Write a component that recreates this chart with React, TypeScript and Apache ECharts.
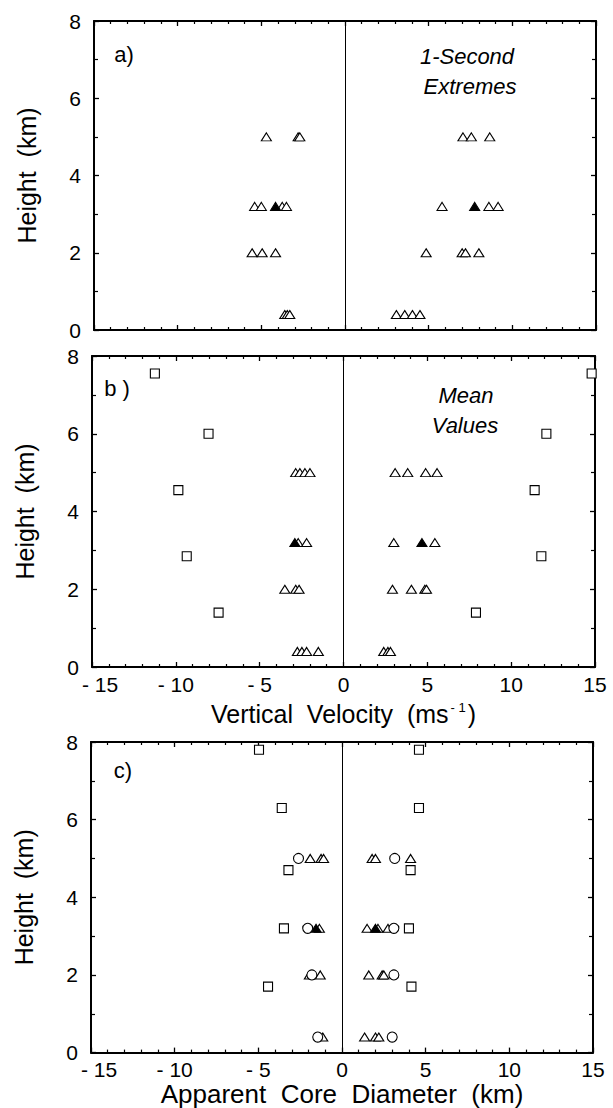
import React, { useEffect, useRef } from "react";
import * as echarts from "echarts";

type Pt = [number, number];

// ---- axis settings ----
const xRange = [-15, 15];
const yRange = [0, 8];
const xTickStep = 5;
const yTickStep = 2;

// ---- panel a) 1-Second Extremes (vertical velocity, m/s vs height, km) ----
const panelAOpenTriangles: Pt[] = [
  [-4.7, 5.0], [-2.8, 5.0], [-2.7, 5.0], [7.05, 5.0], [7.55, 5.0], [8.65, 5.0],
  [-5.4, 3.2], [-5.0, 3.2], [-3.75, 3.2], [-3.5, 3.2], [5.8, 3.2], [8.6, 3.2], [9.15, 3.2],
  [-5.55, 2.0], [-4.95, 2.0], [-4.15, 2.0], [4.85, 2.0], [7.0, 2.0], [7.2, 2.0], [8.0, 2.0],
  [-3.6, 0.4], [-3.45, 0.4], [-3.3, 0.4], [3.07, 0.4], [3.57, 0.4], [4.03, 0.4], [4.48, 0.4],
];
const panelAFilledTriangles: Pt[] = [[-4.15, 3.2], [7.75, 3.2]];

// ---- panel b) Mean Values ----
const panelBOpenTriangles: Pt[] = [
  [-2.85, 5.0], [-2.6, 5.0], [-2.3, 5.0], [-2.0, 5.0], [3.08, 5.0], [3.83, 5.0], [4.9, 5.0], [5.58, 5.0],
  [-2.7, 3.2], [-2.2, 3.2], [3.0, 3.2], [5.45, 3.2],
  [-3.5, 2.0], [-2.85, 2.0], [-2.65, 2.0], [2.92, 2.0], [4.05, 2.0], [4.85, 2.0], [4.95, 2.0],
  [-2.75, 0.4], [-2.48, 0.4], [-2.2, 0.4], [-1.5, 0.4], [2.4, 0.4], [2.65, 0.4], [2.8, 0.4],
];
const panelBFilledTriangles: Pt[] = [[-2.9, 3.2], [4.68, 3.2]];
const panelBSquares: Pt[] = [
  [-11.25, 7.55], [-8.05, 6.0], [-9.85, 4.55], [-9.35, 2.85], [-7.45, 1.4],
  [14.8, 7.55], [12.1, 6.0], [11.4, 4.55], [11.8, 2.85], [7.9, 1.4],
];

// ---- panel c) Apparent Core Diameter (km) ----
const panelCOpenTriangles: Pt[] = [
  [-1.9, 5.0], [-1.25, 5.0], [-1.1, 5.0], [1.8, 5.0], [2.0, 5.0], [4.1, 5.0],
  [-1.35, 3.2], [1.5, 3.2], [2.15, 3.2], [2.75, 3.2],
  [-1.95, 2.0], [-1.3, 2.0], [1.6, 2.0], [2.4, 2.0], [2.5, 2.0],
  [-1.15, 0.4], [1.35, 0.4], [2.0, 0.4], [2.2, 0.4],
];
const panelCFilledTriangles: Pt[] = [[-1.55, 3.2], [2.0, 3.2]];
const panelCSquares: Pt[] = [
  [-4.96, 7.8], [-3.6, 6.3], [-3.2, 4.7], [-3.47, 3.2], [-4.42, 1.7],
  [4.6, 7.8], [4.6, 6.3], [4.1, 4.7], [4.0, 3.2], [4.15, 1.7],
];
const panelCCircles: Pt[] = [
  [-2.6, 5.0], [-2.05, 3.2], [-1.8, 2.0], [-1.45, 0.4],
  [3.15, 5.0], [3.1, 3.2], [3.1, 2.0], [3.0, 0.4],
];

const FONT = "'Liberation Sans', Arial, Helvetica, sans-serif";
const BLACK = "#000";

const grids = [
  { left: 94, top: 21, width: 502, height: 309 },
  { left: 92, top: 356, width: 503, height: 311 },
  { left: 91, top: 742, width: 502, height: 311 },
];

function tickLabel(v: number) {
  const s = v < 0 ? "- " + String(-v) : String(v);
  return v === xRange[0] ? "{first|" + s + "}" : s;
}

function makeAxes(i: number, showXLabels: boolean, xName: any) {
  const axisLine = { show: true, onZero: false, lineStyle: { color: BLACK, width: 2 } };
  const xCommon = {
    type: "value",
    gridIndex: i,
    min: xRange[0],
    max: xRange[1],
    interval: xTickStep,
    axisLine,
    splitLine: { show: false },
    axisTick: { show: true, inside: true, length: 5, lineStyle: { color: BLACK, width: 1.3 } },
    minorTick: { show: true, splitNumber: 5, length: 3, lineStyle: { color: BLACK, width: 1.2 } },
    minorSplitLine: { show: false },
  };
  const yCommon = {
    type: "value",
    gridIndex: i,
    min: yRange[0],
    max: yRange[1],
    interval: yTickStep,
    axisLine,
    splitLine: { show: false },
    axisTick: { show: true, inside: true, length: 5, lineStyle: { color: BLACK, width: 1.3 } },
    minorTick: { show: true, splitNumber: 2, length: 4, lineStyle: { color: BLACK, width: 1.2 } },
    minorSplitLine: { show: false },
  };
  const xBottom: any = {
    ...xCommon,
    position: "bottom",
    axisLabel: {
      show: showXLabels,
      color: BLACK,
      fontFamily: FONT,
      fontSize: 21,
      lineHeight: 16,
      margin: 9,
      formatter: tickLabel,
      rich: {
        first: { color: BLACK, fontFamily: FONT, fontSize: 21, lineHeight: 16, padding: [0, 0, 0, 16] },
      },
    },
  };
  if (xName) Object.assign(xBottom, xName);
  const xTop: any = { ...xCommon, position: "top", axisLabel: { show: false } };
  const yLeft: any = {
    ...yCommon,
    position: "left",
    name: "Height  (km)",
    nameLocation: "middle",
    nameGap: 55,
    nameTextStyle: { color: BLACK, fontFamily: FONT, fontSize: 25 },
    axisLabel: { show: true, color: BLACK, fontFamily: FONT, fontSize: 21, lineHeight: 16, margin: 13 },
  };
  const yRight: any = { ...yCommon, position: "right", axisLabel: { show: false } };
  return { x: [xBottom, xTop], y: [yLeft, yRight] };
}

function scatter(
  name: string,
  data: Pt[],
  gridIdx: number,
  symbol: string,
  size: number | number[],
  fill: string,
  zeroLine = false
): any {
  const s: any = {
    name,
    type: "scatter",
    data,
    xAxisIndex: gridIdx * 2,
    yAxisIndex: gridIdx * 2,
    symbol,
    symbolSize: size,
    itemStyle: { color: fill, borderColor: BLACK, borderWidth: 1.1, opacity: 1 },
    emphasis: { disabled: true },
    silent: true,
  };
  if (zeroLine) {
    s.markLine = {
      silent: true,
      symbol: ["none", "none"],
      label: { show: false },
      lineStyle: { color: BLACK, width: 1, type: "solid" },
      emphasis: { disabled: true },
      data: [{ xAxis: 0 }],
    };
  }
  return s;
}

const TRI = [10, 8];

export default function App() {
  const ref = useRef<HTMLDivElement>(null);
  useEffect(() => {
    if (!ref.current) return;
    const chart = echarts.init(ref.current, null, { renderer: "svg", width: 613, height: 1108 });

    const a = makeAxes(0, false, null);
    const b = makeAxes(1, true, {
      name: "Vertical  Velocity  (ms{sup|- 1})",
      nameLocation: "middle",
      nameGap: 34,
      nameTextStyle: {
        color: BLACK,
        fontFamily: FONT,
        fontSize: 25,
        rich: {
          sup: { fontFamily: FONT, fontSize: 13, color: BLACK, verticalAlign: "top", lineHeight: 13, padding: [0, 2, 12, 2] },
        },
      },
    });
    const c = makeAxes(2, true, {
      name: "Apparent  Core  Diameter  (km)",
      nameLocation: "middle",
      nameGap: 24,
      nameTextStyle: { color: BLACK, fontFamily: FONT, fontSize: 26 },
    });

    const textStyle = (size: number, italic = false) => ({
      fill: BLACK,
      font: `${italic ? "italic " : ""}${size}px ${FONT}`,
      textAlign: "center",
      textVerticalAlign: "middle",
    });

    const option: any = {
      animation: false,
      backgroundColor: "#fff",
      grid: grids,
      xAxis: [...a.x, ...b.x, ...c.x],
      yAxis: [...a.y, ...b.y, ...c.y],
      series: [
        scatter("a open", panelAOpenTriangles, 0, "triangle", TRI, "#fff", true),
        scatter("a filled", panelAFilledTriangles, 0, "triangle", TRI, BLACK),
        scatter("b squares", panelBSquares, 1, "rect", 9, "#fff", true),
        scatter("b open", panelBOpenTriangles, 1, "triangle", TRI, "#fff"),
        scatter("b filled", panelBFilledTriangles, 1, "triangle", TRI, BLACK),
        scatter("c squares", panelCSquares, 2, "rect", 9, "#fff", true),
        scatter("c open", panelCOpenTriangles, 2, "triangle", TRI, "#fff"),
        scatter("c filled", panelCFilledTriangles, 2, "triangle", TRI, BLACK),
        scatter("c circles", panelCCircles, 2, "circle", 10, "#fff"),
      ],
      graphic: [
        { type: "text", x: 124, y: 54, style: { text: "a)", ...textStyle(22) } },
        { type: "text", x: 467, y: 56, style: { text: "1-Second", ...textStyle(22, true) } },
        { type: "text", x: 470, y: 86, style: { text: "Extremes", ...textStyle(22, true) } },
        { type: "text", x: 117, y: 388, style: { text: "b )", ...textStyle(22) } },
        { type: "text", x: 466, y: 395, style: { text: "Mean", ...textStyle(22, true) } },
        { type: "text", x: 465, y: 425, style: { text: "Values", ...textStyle(22, true) } },
        { type: "text", x: 123, y: 770, style: { text: "c)", ...textStyle(22) } },
      ],
    };
    chart.setOption(option);
    return () => chart.dispose();
  }, []);
  return (
    <div
      ref={ref}
      style={{ position: "absolute", left: 0, top: 0, width: 613, height: 1108, background: "#fff" }}
    />
  );
}
